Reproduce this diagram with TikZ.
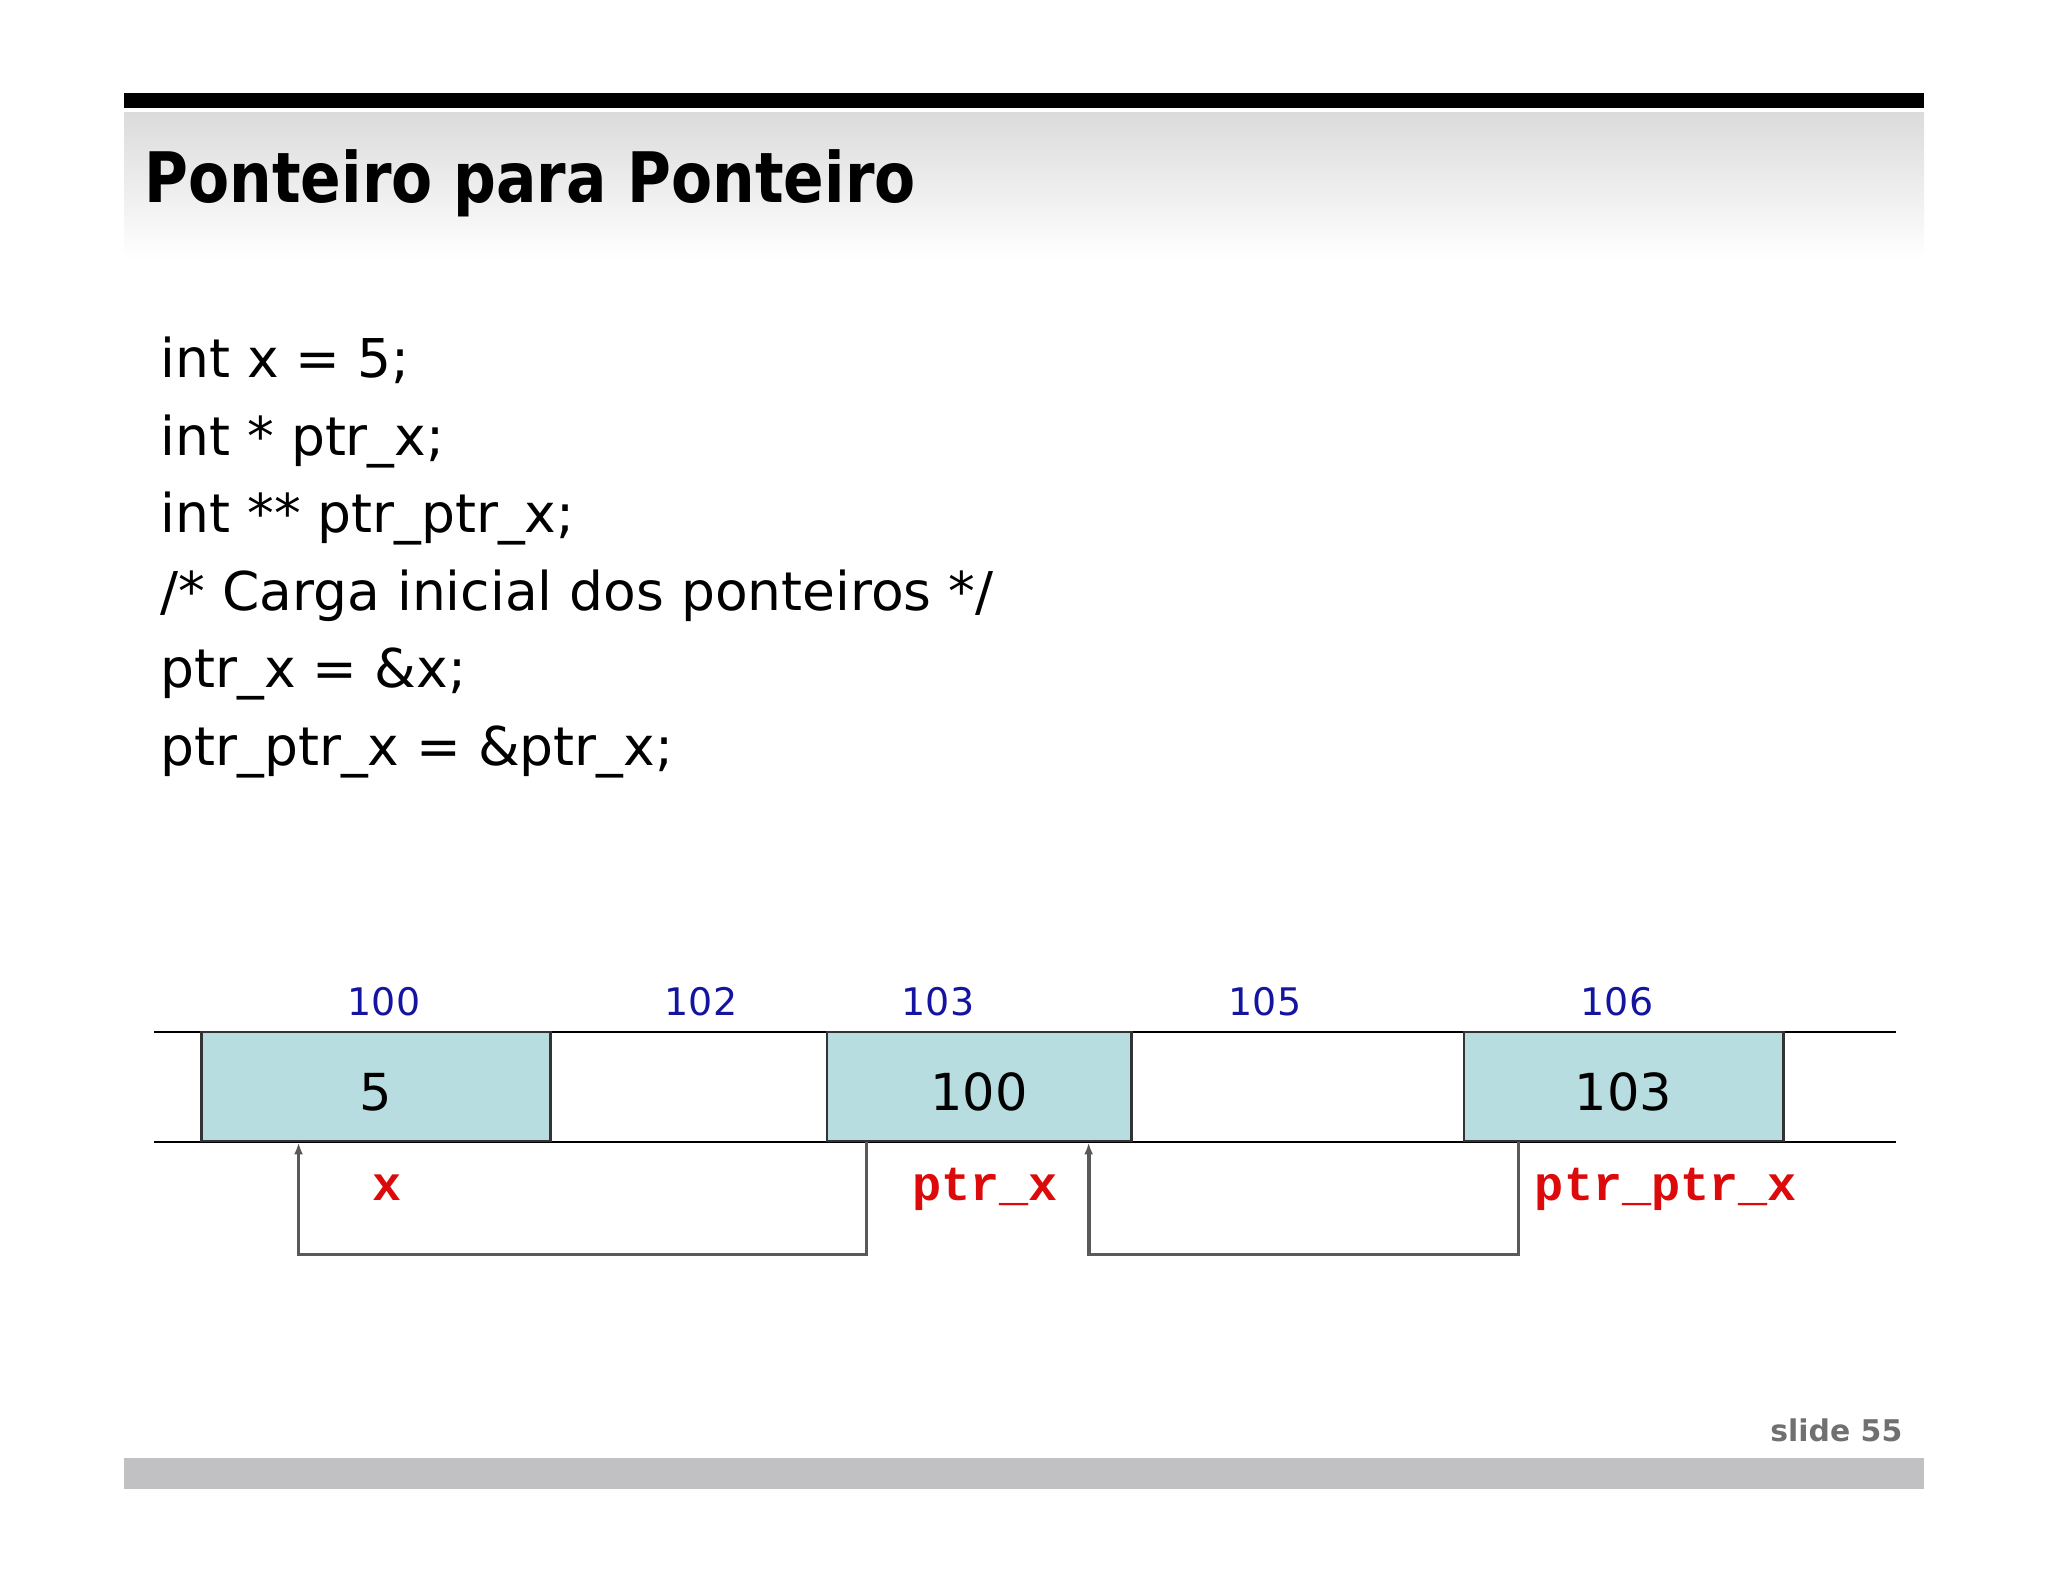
\documentclass[tikz,border=0pt]{standalone}
\usepackage{fontspec}
\setmainfont{DejaVu Sans}
\newfontfamily\titlefont[FakeStretch=0.86]{DejaVu Sans}
\newfontfamily\namefont{Liberation Mono}
\usetikzlibrary{arrows.meta}
\definecolor{cellblue}{RGB}{183,221,225}
\definecolor{addrblue}{RGB}{20,20,160}
\definecolor{namered}{RGB}{220,10,10}
\definecolor{footgray}{RGB}{193,192,194}
\definecolor{slidegray}{RGB}{112,112,112}

\begin{document}
\begin{tikzpicture}[x=0.01cm, y=-0.01cm,
    cell/.style={draw=black!80, line width=0.8pt, fill=cellblue, minimum height=1.09cm, inner sep=0pt, text height=13.4pt, text depth=0pt, font=\fontsize{14.5}{16}\selectfont},
    addr/.style={addrblue, inner sep=0pt, font=\fontsize{10.8}{12}\selectfont},
    varname/.style={namered, anchor=base, inner sep=0pt, font=\namefont\bfseries\fontsize{13.8}{15}\selectfont},
    codeline/.style={anchor=base west, inner sep=0pt, font=\fontsize{15.2}{17}\selectfont},
    link/.style={draw=black!65, line width=1.1pt, -{Latex[length=1.2mm,width=0.9mm]}}]
    \useasboundingbox (0, 0) rectangle (2048, 1582);
    % cabecalho
    \fill[black] (124, 93) rectangle (1924, 108);
    \shade[top color=black!14, bottom color=white] (124, 113) rectangle (1924, 260);
    \node[anchor=base west, inner sep=0pt, font=\titlefont\bfseries\fontsize{19.8}{22}\selectfont] (title) at (144, 203) {Ponteiro para Ponteiro};
    % codigo
    \node[codeline] (l1) at (160, 377) {int x = 5;};
    \node[codeline] (l2) at (160, 455) {int * ptr\_x;};
    \node[codeline] (l3) at (160, 532) {int ** ptr\_ptr\_x;};
    \node[codeline] (l4) at (160, 610) {/* Carga inicial dos ponteiros */};
    \node[codeline] (l5) at (160, 687) {ptr\_x = \&x;};
    \node[codeline] (l6) at (160, 765) {ptr\_ptr\_x = \&ptr\_x;};
    % memoria
    \draw[line width=0.8pt] (154, 1032) -- (1896, 1032);
    \draw[line width=0.8pt] (154, 1142) -- (1896, 1142);
    \node[cell, minimum width=3.48cm] (va) at (376, 1086.5) {5};
    \node[cell, minimum width=3.04cm] (vb) at (979, 1086.5) {100};
    \node[cell, minimum width=3.19cm] (vc) at (1623.5, 1086.5) {103};
    \node[addr] (a100) at (384, 1002) {100};
    \node[addr] (a102) at (701, 1002) {102};
    \node[addr] (a103) at (938, 1002) {103};
    \node[addr] (a105) at (1265, 1002) {105};
    \node[addr] (a106) at (1617, 1002) {106};
    \node[varname] (nx) at (387, 1200) {x};
    \node[varname] (nptrx) at (985, 1200) {ptr\_x};
    \node[varname] (nptrptrx) at (1666, 1200) {ptr\_ptr\_x};
    \draw[link] ([xshift=0.41cm]vb.south west) -- ++(0, 112) -| ([xshift=0.98cm]va.south west);
    \draw[link] ([xshift=0.56cm]vc.south west) -- ++(0, 112) -| ([xshift=2.63cm]vb.south west);
    % rodape
    \fill[footgray] (124, 1458) rectangle (1924, 1489);
    \node[anchor=base east, slidegray, inner sep=0pt, font=\bfseries\fontsize{8.5}{10}\selectfont] (slide) at (1903, 1441) {slide 55};
\end{tikzpicture}
\end{document}
